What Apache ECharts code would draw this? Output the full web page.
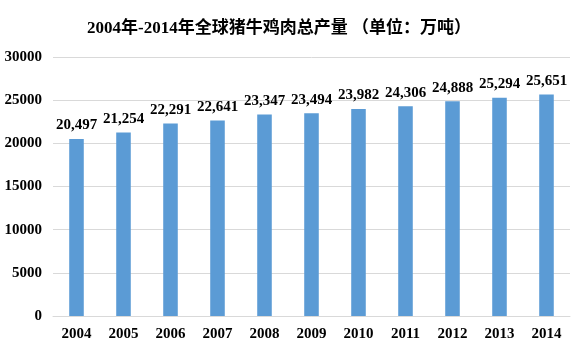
<!DOCTYPE html>
<html><head><meta charset="utf-8">
<script src="https://cdn.jsdelivr.net/npm/echarts@6/dist/echarts.min.js"></script>
<style>html,body{margin:0;padding:0;background:#fff}#c{width:574px;height:358px}</style>
</head><body><div id="c"></div>
<script>
const categories = ['2004','2005','2006','2007','2008','2009','2010','2011','2012','2013','2014'];
const production = [20497,21254,22291,22641,23347,23494,23982,24306,24888,25294,25651];
const titleText = '2004年-2014年全球猪牛鸡肉总产量 （单位：万吨）';
const FONT = '"Liberation Serif", "Times New Roman", "Noto Sans CJK SC", serif';
const chart = echarts.init(document.getElementById('c'));
chart.setOption({
  animation: false,
  title: { text: titleText, left: 82, top: 15,
    textStyle: { fontFamily: FONT, fontSize: 17, fontWeight: 'bold', color: '#000' } },
  grid: { left: 53, right: 4, top: 57, bottom: 42 },
  xAxis: { type: 'category', data: categories,
    axisLine: { lineStyle: { color: '#d9d9d9' } }, axisTick: { show: false },
    axisLabel: { fontFamily: FONT, fontSize: 15, fontWeight: 'bold', color: '#000', margin: 11 } },
  yAxis: { type: 'value', min: 0, max: 30000, interval: 5000,
    axisLine: { show: false }, axisTick: { show: false },
    splitLine: { lineStyle: { color: '#d9d9d9' } },
    axisLabel: { fontFamily: FONT, fontSize: 15, fontWeight: 'bold', color: '#000', margin: 11,
      formatter: v => String(v) } },
  series: [{ type: 'bar', data: production, barWidth: '31%',
    itemStyle: { color: '#5B9BD5' },
    label: { show: true, position: 'top', distance: 6, fontFamily: FONT, fontSize: 15, fontWeight: 'bold', color: '#000',
      formatter: p => p.value.toLocaleString('en-US') } }]
});
</script></body></html>
